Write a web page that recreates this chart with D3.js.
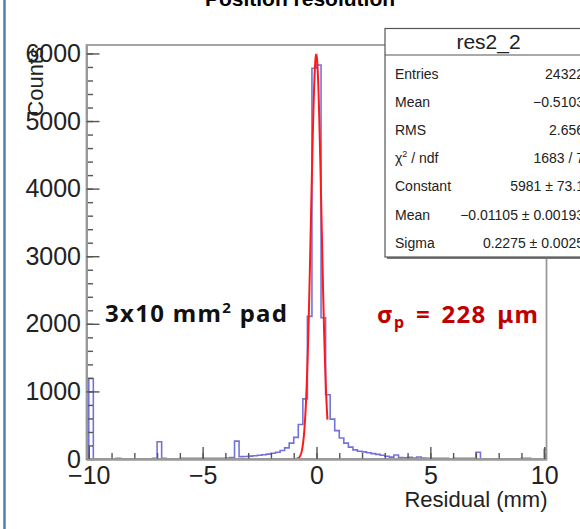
<!DOCTYPE html>
<html>
<head>
<meta charset="utf-8">
<script src="https://cdn.jsdelivr.net/npm/d3@7"></script>
<style>
  html, body { margin: 0; padding: 0; background: #fff; }
  svg { display: block; }
  text { font-family: "Liberation Sans", Arial, Helvetica, sans-serif; }
</style>
</head>
<body>
<svg id="chart" width="580" height="529"></svg>
<script>
// Histogram of track residuals: 0.2 mm bins starting at -10.2 mm
const binStart = -10.2;
const binWidth = 0.2;
const counts = [
  0, 1190, 0, 0, 0, 0, 0, 12, 0, 0,
  0, 0, 0, 0, 0, 12, 255, 12, 0, 0,
  0, 12, 12, 12, 12, 12, 12, 12, 12, 12,
  12, 15, 20, 265, 35, 38, 42, 48, 55, 62,
  72, 85, 100, 125, 165, 235, 320, 510, 890, 2110,
  5780, 5830, 2090, 950, 590, 420, 310, 235, 175, 135,
  115, 105, 92, 80, 68, 55, 40, 28, 60, 22,
  18, 25, 15, 30, 15, 12, 12, 12, 12, 12,
  0, 12, 12, 12, 12, 12, 100, 0, 0, 0,
  0, 0, 0, 0, 0, 0, 12, 12, 0, 0,
  0, 140
];

// Gaussian fit result and its fit range
const fitConstant = 5981;
const fitMean = -0.01105;
const fitSigma = 0.2275;
const fitRange = [-1.5, 0.48];

// Axis ticks
const xMajorTicks = [-10, -5, 0, 5, 10];
const xMinorTicks = d3.range(-10, 10.5, 1);
const yMajorTicks = [0, 1000, 2000, 3000, 4000, 5000, 6000];
const yMinorTicks = d3.range(0, 6001, 200);

// Statistics box rows
const statsTitle = "res2_2";
const statLabels = ["Entries", "Mean", "RMS", "χ2 / ndf", "Constant", "Mean", "Sigma"];
const statValues = ["24322", "−0.5103", "2.656", "1683 / 7", "5981 ± 73.1", "−0.01105 ± 0.00193", "0.2275 ± 0.0025"];

const svg = d3.select("#chart");
const plot = { left: 86.5, right: 546.5, top: 45, bottom: 459 };

const x = d3.scaleLinear().domain([-10.1, 10.1]).range([plot.left, plot.right]);
const y = d3.scaleLinear().domain([0, 6125]).range([plot.bottom, plot.top]);

// slide frame line on the left
svg.append("line")
  .attr("x1", 4.5).attr("x2", 4.5).attr("y1", 0).attr("y2", 529)
  .attr("stroke", "#4f7fb8").attr("stroke-width", 2.5);

// title (partly above the visible area)
svg.append("text")
  .attr("x", 300).attr("y", 5.5)
  .attr("text-anchor", "middle")
  .attr("font-size", 21).attr("font-weight", "bold")
  .text("Position resolution");

svg.append("clipPath").attr("id", "plotClip")
  .append("rect")
  .attr("x", plot.left).attr("y", plot.top)
  .attr("width", plot.right - plot.left).attr("height", plot.bottom - plot.top);

// histogram drawn as a step outline
const stepPts = [[binStart, 0]];
counts.forEach((c, i) => {
  const lo = binStart + i * binWidth;
  stepPts.push([lo, c], [lo + binWidth, c]);
});
stepPts.push([binStart + counts.length * binWidth, 0]);

svg.append("path")
  .attr("clip-path", "url(#plotClip)")
  .attr("d", d3.line().x(d => x(d[0])).y(d => y(d[1]))(stepPts))
  .attr("fill", "none")
  .attr("stroke", "#3c3cd0")
  .attr("stroke-opacity", 0.72)
  .attr("stroke-width", 1.6);

// fitted Gaussian
const gauss = v => fitConstant * Math.exp(-0.5 * Math.pow((v - fitMean) / fitSigma, 2));
const fitPts = d3.range(0, 201).map(k => {
  const v = fitRange[0] + (fitRange[1] - fitRange[0]) * k / 200;
  return [v, gauss(v)];
});
svg.append("path")
  .attr("d", d3.line().x(d => x(d[0])).y(d => y(d[1]))(fitPts))
  .attr("fill", "none")
  .attr("stroke", "#ff1a1a")
  .attr("stroke-width", 2);

// frame
svg.append("rect")
  .attr("x", plot.left).attr("y", plot.top)
  .attr("width", plot.right - plot.left).attr("height", plot.bottom - plot.top)
  .attr("fill", "none").attr("stroke", "#9a9a9a").attr("stroke-width", 1.8);

// axes
function styleAxis(g) {
  g.select(".domain").attr("stroke", "#9a9a9a").attr("stroke-width", 1.8);
  g.selectAll(".tick line").attr("stroke", "#555").attr("stroke-width", 1.4);
  g.selectAll("text").attr("font-size", 25).attr("fill", "#222")
    .style("font-family", "'Liberation Sans', Arial, sans-serif");
}

svg.append("g")
  .attr("transform", `translate(${plot.left},0)`)
  .call(d3.axisLeft(y).tickValues(yMinorTicks).tickSize(-6.5).tickSizeOuter(0).tickFormat(""))
  .call(styleAxis);
svg.append("g")
  .attr("transform", `translate(${plot.left},0)`)
  .call(d3.axisLeft(y).tickValues(yMajorTicks).tickSize(-13).tickSizeOuter(0).tickPadding(5.5).tickFormat(d3.format("d")))
  .call(styleAxis);

svg.append("g")
  .attr("transform", `translate(0,${plot.bottom})`)
  .call(d3.axisBottom(x).tickValues(xMinorTicks).tickSize(-6).tickSizeOuter(0).tickFormat(""))
  .call(styleAxis);
svg.append("g")
  .attr("transform", `translate(0,${plot.bottom})`)
  .call(d3.axisBottom(x).tickValues(xMajorTicks).tickSize(-12).tickSizeOuter(0).tickPadding(7).tickFormat(d3.format("d")))
  .call(styleAxis);

// axis titles
svg.append("text")
  .attr("x", plot.right + 1).attr("y", 507)
  .attr("text-anchor", "end")
  .attr("font-size", 22).attr("fill", "#222")
  .text("Residual (mm)");

svg.append("text")
  .attr("transform", `translate(43,${plot.top + 2}) rotate(-90)`)
  .attr("text-anchor", "end")
  .attr("font-size", 22).attr("fill", "#222")
  .text("Counts");

// statistics box
const box = { left: 385, top: 28.5, right: 592, bottom: 257, header: 55 };
svg.append("rect")
  .attr("x", box.left + 2).attr("y", box.top + 2)
  .attr("width", box.right - box.left).attr("height", box.bottom - box.top)
  .attr("fill", "#777");
svg.append("rect")
  .attr("x", box.left).attr("y", box.top)
  .attr("width", box.right - box.left).attr("height", box.bottom - box.top)
  .attr("fill", "#fff").attr("stroke", "#555").attr("stroke-width", 1.2);
svg.append("line")
  .attr("x1", box.left).attr("x2", box.right).attr("y1", box.header).attr("y2", box.header)
  .attr("stroke", "#555").attr("stroke-width", 1.2);
svg.append("text")
  .attr("x", (box.left + box.right) / 2).attr("y", 49)
  .attr("text-anchor", "middle").attr("font-size", 21).attr("fill", "#222")
  .text(statsTitle);

const rowY = i => 78.5 + i * 28.2;
statLabels.forEach((lab, i) => {
  const t = svg.append("text")
    .attr("x", 395).attr("y", rowY(i))
    .attr("font-size", 14).attr("fill", "#222");
  if (lab.startsWith("χ2")) {
    t.append("tspan").text("χ");
    t.append("tspan").attr("font-size", 9).attr("dy", -6).text("2");
    t.append("tspan").attr("dy", 6).text(" / ndf");
  } else {
    t.text(lab);
  }
});
statValues.forEach((val, i) => {
  svg.append("text")
    .attr("x", 584).attr("y", rowY(i))
    .attr("text-anchor", "end")
    .attr("font-size", 14).attr("fill", "#222")
    .text(val);
});

// annotations
const padText = svg.append("text")
  .attr("x", 105).attr("y", 322)
  .attr("font-size", 24).attr("font-weight", "bold").attr("fill", "#111")
  .attr("letter-spacing", 1.3)
  .style("font-family", "'Noto Sans', 'Open Sans', sans-serif");
padText.append("tspan").text("3x10 mm");
padText.append("tspan").attr("font-size", 15).attr("dy", -9).text("2");
padText.append("tspan").attr("dy", 9).text(" pad");

const sigText = svg.append("text")
  .attr("x", 377).attr("y", 323)
  .attr("font-size", 24).attr("font-weight", "bold").attr("fill", "#c00000")
  .attr("letter-spacing", 1.3).attr("word-spacing", 3)
  .style("font-family", "'Noto Sans', 'Open Sans', sans-serif");
sigText.append("tspan").text("σ");
sigText.append("tspan").attr("font-size", 16).attr("dy", 5).text("p");
sigText.append("tspan").attr("dy", -5).text(" = 228 μm");
</script>
</body>
</html>
